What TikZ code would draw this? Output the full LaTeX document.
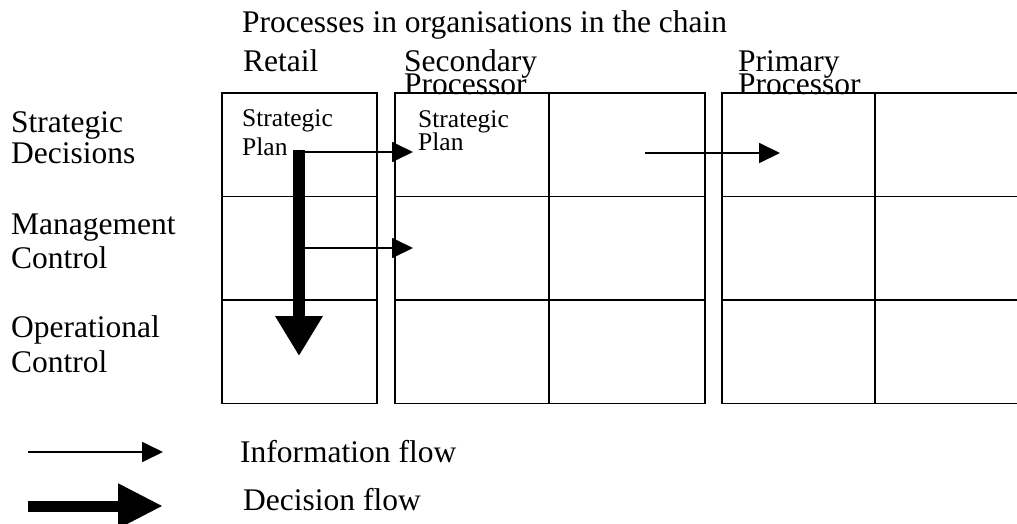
\documentclass[tikz,border=0pt]{standalone}
\usepackage{fontspec}
\setmainfont{Liberation Serif}
\usetikzlibrary{arrows.meta}
\begin{document}
\begin{tikzpicture}[x=1pt,y=-1pt,
  cell/.style={draw,line width=1.6pt,inner sep=0pt,anchor=north west,minimum width=#1,minimum height=103.5pt},
  big/.style={anchor=base west,inner sep=0pt,font=\fontsize{31.5}{32}\selectfont},
  small/.style={anchor=base west,inner sep=0pt,font=\fontsize{25.5}{22}\selectfont},
  info/.style={line width=1.8pt,-{Triangle[length=21pt,width=20pt]}},
  decision/.style={line width=12pt,-{Triangle[length=40pt,width=45pt]}}]
\useasboundingbox (0,0) rectangle (1017,524);
\clip (0,0) rectangle (1017,524);
% headers
\node[big] (title) at (242,33) {Processes in organisations in the chain};
\node[big] (retail) at (243,72) {Retail};
\node[big] (sec1) at (404,72) {Secondary};
\node[big] (sec2) at (404,95) {Processor};
\node[big] (pri1) at (738,72) {Primary};
\node[big] (pri2) at (738,95) {Processor};
% row labels
\node[big] (sd1) at (11,132) {Strategic};
\node[big] (sd2) at (11,164) {Decisions};
\node[big] (mc1) at (11,234) {Management};
\node[big] (mc2) at (11,268) {Control};
\node[big] (oc1) at (11,337) {Operational};
\node[big] (oc2) at (11,372) {Control};
% retail column
\node[cell=155pt] (r1) at (221,92) {};
\node[cell=155pt] (r2) at (221,195.5) {};
\node[cell=155pt] (r3) at (221,299) {};
% secondary processor
\node[cell=154pt] (s11) at (394,92) {};
\node[cell=154pt] (s21) at (394,195.5) {};
\node[cell=154pt] (s31) at (394,299) {};
\node[cell=156pt] (s12) at (548,92) {};
\node[cell=156pt] (s22) at (548,195.5) {};
\node[cell=156pt] (s32) at (548,299) {};
% primary processor
\node[cell=153pt] (p11) at (721,92) {};
\node[cell=153pt] (p21) at (721,195.5) {};
\node[cell=153pt] (p31) at (721,299) {};
\node[cell=160pt] (p12) at (874,92) {};
\node[cell=160pt] (p22) at (874,195.5) {};
\node[cell=160pt] (p32) at (874,299) {};
% texts in cells
\node[small] (rsp1) at (242,127) {Strategic};
\node[small] (rsp2) at (242,156) {Plan};
\node[small] (ssp1) at (418,128) {Strategic};
\node[small] (ssp2) at (418,150) {Plan};
% arrows
\coordinate (dstart) at (299,150);
\coordinate (dend) at (299,356);
\coordinate (i1s) at (305,152);
\coordinate (i1e) at (413,152);
\coordinate (i2s) at (305,248);
\coordinate (i2e) at (413,248);
\coordinate (i3s) at (645,153);
\coordinate (i3e) at (780,153);
\draw[info] (i1s) -- (i1e);
\draw[info] (i2s) -- (i2e);
\draw[info] (i3s) -- (i3e);
\draw[decision] (dstart) -- (dend);
% legend
\coordinate (li1) at (28,452);
\coordinate (li2) at (163,452);
\coordinate (ld1) at (28,506);
\coordinate (ld2) at (163,506);
\draw[info] (li1) -- (li2);
\draw[line width=11pt,-{Triangle[length=45pt,width=42pt]}] (ld1) -- (ld2);
\node[big] (linfo) at (240,462) {Information flow};
\node[big] (ldec) at (243,510) {Decision flow};
\end{tikzpicture}
\end{document}
